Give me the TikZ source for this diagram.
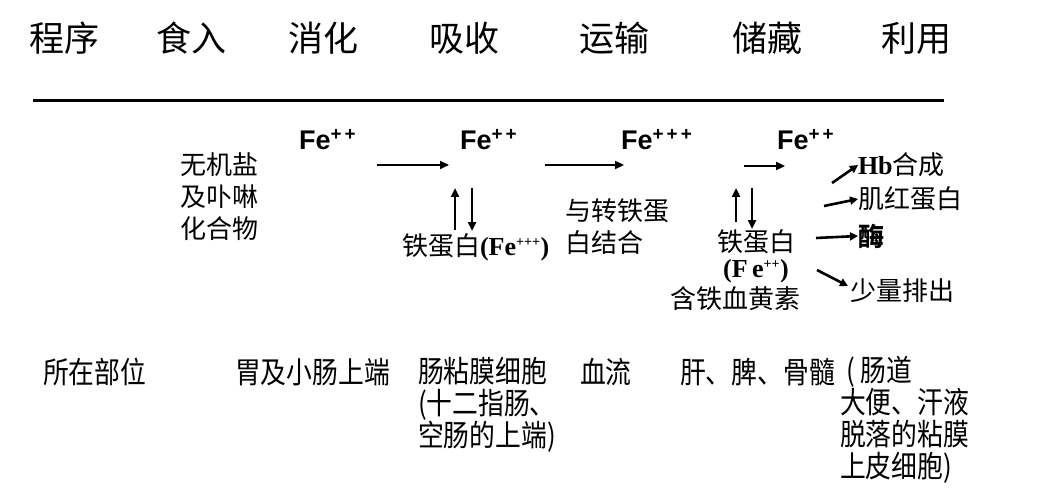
\documentclass[tikz,border=0pt]{standalone}
\usepackage{fontspec}
\setmainfont{Liberation Serif}
\newfontfamily\cjk{Noto Sans CJK SC}
\newfontfamily\cjkc[FakeStretch=0.86]{Noto Sans CJK SC}
\newfontfamily\arialb{Liberation Sans}
\usetikzlibrary{arrows.meta}
\begin{document}
\begin{tikzpicture}[x=1pt,y=-1pt,
  every node/.style={inner sep=0pt,outer sep=0pt},
  head/.style={font=\cjk\fontsize{35}{40}\selectfont},
  fe/.style={anchor=west,font=\arialb\bfseries\fontsize{27}{30}\selectfont},
  mid/.style={anchor=west,align=left,font=\cjk\fontsize{26}{32}\selectfont},
  bot/.style={anchor=west,align=left,font=\cjkc\fontsize{30}{32}\selectfont},
  arr/.style={line width=2.6pt,-{Triangle[length=9pt,width=8pt]}},
  sarr/.style={line width=2.6pt,-{Triangle[length=8pt,width=8pt]}}]
\useasboundingbox (0,0) rectangle (1046,489);
% header
\node[head] (h1) at (64,38) {程序};
\node[head] (h2) at (191,38) {食入};
\node[head] (h3) at (323,38) {消化};
\node[head] (h4) at (464,38) {吸收};
\node[head] (h5) at (614,38) {运输};
\node[head] (h6) at (767,38) {储藏};
\node[head] (h7) at (916,38) {利用};
\coordinate (l1) at (33,101);
\coordinate (l2) at (944,101);
\draw[line width=3pt] (l1) -- (l2);
% Fe labels
\node[fe] (fe1) at (299,140) {Fe\textsuperscript{+\,+}};
\node[fe] (fe2) at (460,140) {Fe\textsuperscript{+\,+}};
\node[fe] (fe3) at (621,140) {Fe\textsuperscript{+\,+\,+}};
\node[fe] (fe4) at (777,140) {Fe\textsuperscript{+\,+}};
% left text
\node[mid] (src) at (180,197) {无机盐\\及卟啉\\化合物};
% horizontal arrows
\coordinate (a1s) at (377,165); \coordinate (a1e) at (449,165);
\coordinate (a2s) at (545,165); \coordinate (a2e) at (624,165);
\coordinate (a3s) at (744,166); \coordinate (a3e) at (785,166);
\draw[arr] (a1s) -- (a1e);
\draw[arr] (a2s) -- (a2e);
\draw[arr] (a3s) -- (a3e);
% vertical arrows pair 1
\coordinate (u1s) at (455,230); \coordinate (u1e) at (455,188);
\coordinate (d1s) at (472,188); \coordinate (d1e) at (472,231);
\draw[arr] (u1s) -- (u1e);
\draw[arr] (d1s) -- (d1e);
\node[anchor=west,font=\fontsize{26}{30}\selectfont] (fer1) at (402,247) {{\cjk 铁蛋白}\textbf{(Fe\textsuperscript{\fontsize{14}{14}\selectfont +++})}};
% transferrin
\node[mid] (tf) at (565,227) {与转铁蛋\\白结合};
% vertical arrows pair 2
\coordinate (u2s) at (736,222); \coordinate (u2e) at (736,188);
\coordinate (d2s) at (752,188); \coordinate (d2e) at (752,229);
\draw[arr] (u2s) -- (u2e);
\draw[arr] (d2s) -- (d2e);
\node[font=\cjk\fontsize{26}{30}\selectfont] (fer2) at (756,242) {铁蛋白};
\node[font=\bfseries\fontsize{26}{30}\selectfont] (fer2b) at (756,271) {(F\,e\textsuperscript{\fontsize{14}{14}\selectfont ++})};
\node[font=\cjk\fontsize{26}{30}\selectfont] (hs) at (735,299) {含铁血黄素};
% uses
\node[anchor=west,font=\fontsize{26}{30}\selectfont] (hb) at (858,165) {\textbf{Hb}{\cjk 合成}};
\node[mid] (mb) at (858,199) {肌红蛋白};
\node[mid,font=\cjk\bfseries\fontsize{26}{30}\selectfont] (enz) at (858,236) {酶};
\node[mid] (exc) at (850,291) {少量排出};
\draw[sarr] (832,183) -- (hb.west);
\draw[sarr] (824,206) -- (mb.west);
\coordinate (ez) at (816,238);
\draw[sarr] (ez) -- (enz.west);
\coordinate (ex) at (817,270);
\coordinate (exe) at (848,286);
\draw[sarr] (ex) -- (exe);
% bottom row
\node[bot] (b1) at (43,372) {所在部位};
\node[bot] (b2) at (235,372) {胃及小肠上端};
\node[bot] (b3) at (418,405) {肠粘膜细胞\\(十二指肠、\\空肠的上端)};
\node[bot] (b4) at (580,372) {血流};
\node[bot] (b5) at (680,372) {肝、脾、骨髓};
\node[bot] (b6) at (840,420) {\hspace*{6pt}( 肠道\\大便、汗液\\脱落的粘膜\\上皮细胞)};
\end{tikzpicture}
\end{document}
